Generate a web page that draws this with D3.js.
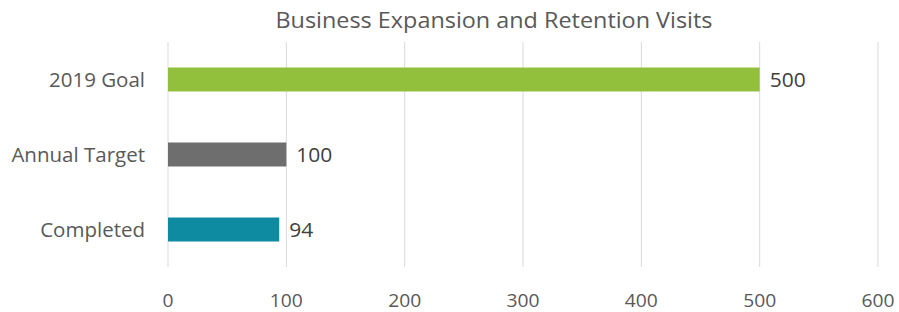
<!DOCTYPE html>
<html><head><meta charset="utf-8">
<script src="https://cdn.jsdelivr.net/npm/d3@7"></script>
<style>body{margin:0;background:#fff}svg{display:block}</style>
</head><body>
<script>
const categories = ["2019 Goal", "Annual Target", "Completed"];
const values = [500, 100, 94];
const colors = ["#92c03c", "#6e6e6e", "#0f8ba1"];
const xTicks = [0, 100, 200, 300, 400, 500, 600];
const title = "Business Expansion and Retention Visits";

const W = 899, H = 312;
const m = {left: 168, right: 21, top: 42, bottom: 45};
const svg = d3.select("body").append("svg").attr("width", W).attr("height", H);
const font = "'Open Sans', 'Liberation Sans', sans-serif";
const textColor = "#595959";

const x = d3.scaleLinear().domain([0, 600]).range([m.left, W - m.right]);
const y = d3.scaleBand().domain(categories).range([m.top, H - m.bottom]).paddingInner(0.68).paddingOuter(0.34);

// gridlines
svg.append("g").selectAll("line").data(xTicks).join("line")
  .attr("x1", d => x(d)).attr("x2", d => x(d))
  .attr("y1", m.top).attr("y2", H - m.bottom)
  .attr("stroke", "#d9d9d9").attr("stroke-width", 1);

// x tick labels
svg.append("g").selectAll("text").data(xTicks).join("text")
  .attr("x", d => x(d)).attr("y", 300)
  .attr("dy", "0.35em")
  .attr("text-anchor", "middle")
  .attr("font-family", font).attr("font-size", 19).attr("fill", textColor)
  .attr("textLength", d => String(d).length * 11).attr("lengthAdjust", "spacingAndGlyphs")
  .text(d => d);

// category labels
svg.append("g").selectAll("text").data(categories).join("text")
  .attr("x", 145).attr("y", d => y(d) + y.bandwidth() / 2)
  .attr("dy", "0.35em")
  .attr("text-anchor", "end")
  .attr("font-family", font).attr("font-size", 20.5).attr("fill", textColor)
  .text(d => d);

// bars
svg.append("g").selectAll("rect").data(categories).join("rect")
  .attr("x", x(0)).attr("y", d => y(d))
  .attr("width", (d, i) => x(values[i]) - x(0))
  .attr("height", y.bandwidth())
  .attr("fill", (d, i) => colors[i]);

// value labels
svg.append("g").selectAll("text").data(categories).join("text")
  .attr("x", (d, i) => x(values[i]) + 10).attr("y", d => y(d) + y.bandwidth() / 2)
  .attr("dy", "0.35em")
  .attr("font-family", font).attr("font-size", 20).attr("fill", "#404040")
  .attr("textLength", (d, i) => String(values[i]).length * 12).attr("lengthAdjust", "spacingAndGlyphs")
  .text((d, i) => values[i]);

// title
svg.append("text").attr("x", 494).attr("y", 28)
  .attr("text-anchor", "middle")
  .attr("font-family", font).attr("font-size", 22.5).attr("fill", textColor)
  .attr("textLength", 437).attr("lengthAdjust", "spacingAndGlyphs")
  .text(title);
</script>
</body></html>
